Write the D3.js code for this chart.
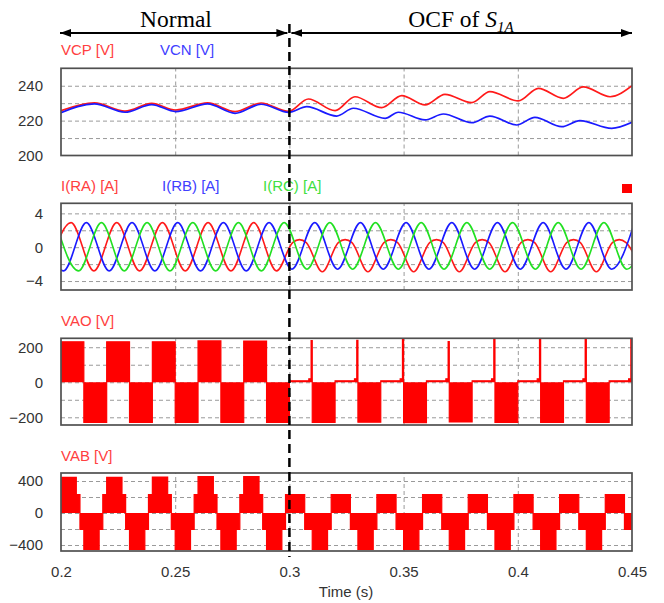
<!DOCTYPE html>
<html>
<head>
<meta charset="utf-8">
<script src="https://cdn.jsdelivr.net/npm/d3@7"></script>
<style>
  body { margin: 0; background: #fff; }
  .sans { font-family: "Liberation Sans", Arial, sans-serif; }
  .serif { font-family: "Liberation Serif", "Times New Roman", serif; }
</style>
</head>
<body>
<svg id="chart" width="664" height="603"></svg>
<script>
// ---- time axis ----
const timeDomain = [0.2, 0.45];
const timeTicks = [0.2, 0.25, 0.3, 0.35, 0.4, 0.45];
const timeTickLabels = ["0.2", "0.25", "0.3", "0.35", "0.4", "0.45"];
const timeGrid = [0.25, 0.3, 0.35, 0.4];
const faultTime = 0.3;

// ---- capacitor voltages VCP / VCN [V] : (time, value) turning points ----
const vcpPoints = [
  [0.2, 225.7], [0.2146, 230.2], [0.228, 225.5], [0.2397, 229.9], [0.2502, 226.1],
  [0.2642, 230.2], [0.2762, 225.2], [0.2876, 230.1], [0.2997, 225.3], [0.3083, 232.4],
  [0.32, 225.7], [0.3287, 233.7], [0.3404, 227.4], [0.3492, 234.3], [0.3594, 229.0],
  [0.3681, 235.1], [0.3798, 230.3], [0.3878, 236.6], [0.4002, 231.3], [0.409, 238.5],
  [0.4199, 232.8], [0.4287, 239.3], [0.4404, 233.7], [0.45, 240.0]
];
const vcnPoints = [
  [0.2, 224.5], [0.2146, 229.6], [0.228, 224.8], [0.2397, 229.2], [0.2502, 225.2],
  [0.2642, 229.6], [0.2762, 224.2], [0.2876, 229.4], [0.2997, 224.7], [0.3076, 228.0],
  [0.3207, 222.6], [0.328, 227.1], [0.3419, 221.3], [0.3477, 224.8], [0.3594, 220.4],
  [0.3674, 223.8], [0.3798, 218.8], [0.3878, 222.6], [0.3995, 217.5], [0.4075, 221.9],
  [0.4192, 216.5], [0.4272, 220.0], [0.4411, 215.6], [0.45, 219.0]
];
const vcTicks = [200, 220, 240];
const vcGrid = [210, 220, 230, 240];

// ---- load currents [A] : peaks and troughs ----
const iraPoints = [
  [0.1944, -2.8], [0.2044, 2.9], [0.2144, -2.8], [0.2244, 2.9], [0.2344, -2.8],
  [0.2444, 2.9], [0.2544, -2.8], [0.2644, 2.9], [0.2744, -2.8], [0.2844, 2.9],
  [0.2944, -2.8], [0.3014, 0.55], [0.3044, 0.9], [0.3074, 0.55], [0.3144, -2.9],
  [0.3214, 0.55], [0.3244, 0.9], [0.3274, 0.55], [0.3344, -2.9],
  [0.3414, 0.55], [0.3444, 0.9], [0.3474, 0.55], [0.3544, -2.9],
  [0.3614, 0.55], [0.3644, 0.9], [0.3674, 0.55], [0.3744, -2.9],
  [0.3814, 0.55], [0.3844, 0.9], [0.3874, 0.55], [0.3944, -2.9],
  [0.4014, 0.55], [0.4044, 0.9], [0.4074, 0.55], [0.4144, -2.9],
  [0.4214, 0.55], [0.4244, 0.9], [0.4274, 0.55], [0.4344, -2.9],
  [0.4414, 0.55], [0.4444, 0.9], [0.4474, 0.55], [0.4544, -2.9]
];
const irbPoints = [
  [0.1911, 2.9], [0.2011, -2.8], [0.2111, 2.9], [0.2211, -2.8], [0.2311, 2.9],
  [0.2411, -2.8], [0.2511, 2.9], [0.2611, -2.8], [0.2711, 2.9], [0.2811, -2.8],
  [0.2911, 2.9], [0.3011, -2.6], [0.3111, 2.9], [0.3211, -2.6], [0.3311, 2.9],
  [0.3411, -2.6], [0.3511, 2.9], [0.3611, -2.6], [0.3711, 2.9], [0.3811, -2.6],
  [0.3911, 2.9], [0.4011, -2.6], [0.4111, 2.9], [0.4211, -2.6], [0.4311, 2.9],
  [0.4411, -2.6], [0.4511, 2.9]
];
const ircPoints = [
  [0.1977, 2.9], [0.2077, -2.8], [0.2177, 2.9], [0.2277, -2.8], [0.2377, 2.9],
  [0.2477, -2.8], [0.2577, 2.9], [0.2677, -2.8], [0.2777, 2.9], [0.2877, -2.8],
  [0.2977, 2.9], [0.3077, -2.6], [0.3177, 2.9], [0.3277, -2.6], [0.3377, 2.9],
  [0.3477, -2.6], [0.3577, 2.9], [0.3677, -2.6], [0.3777, 2.9], [0.3877, -2.6],
  [0.3977, 2.9], [0.4077, -2.6], [0.4177, 2.9], [0.4277, -2.6], [0.4377, 2.9],
  [0.4477, -2.6], [0.4577, 2.9]
];
const iTicks = [-4, 0, 4];
const iGrid = [-4, -2, 0, 2, 4];

// ---- pole voltage VAO [V] : (segment start time, level) ----
const vaoSteps = [
  [0.2, 231], [0.21, -229], [0.22, 231], [0.23, -229], [0.24, 231],
  [0.25, -229], [0.26, 236], [0.27, -229], [0.28, 235], [0.29, -229],
  [0.3, 8], [0.3085, 20], [0.3095, 238], [0.31, -229],
  [0.32, 8], [0.3285, 20], [0.3295, 240], [0.33, -228],
  [0.34, 8], [0.3485, 20], [0.3495, 248], [0.35, -230],
  [0.36, 8], [0.3685, 20], [0.3695, 232], [0.37, -227],
  [0.38, 8], [0.3885, 20], [0.3895, 248], [0.39, -229],
  [0.40, 8], [0.4085, 20], [0.4095, 245], [0.41, -229],
  [0.42, 8], [0.4285, 20], [0.4295, 245], [0.43, -229],
  [0.44, 8], [0.4485, 20], [0.4495, 248]
];
const vaoTicks = [-200, 0, 200];
const vaoGrid = [-200, -100, 0, 100, 200];

// ---- line voltage VAB [V] : (segment start time, level) ----
const vabSteps = [
  [0.2, 445], [0.2067, 230], [0.2083, -205], [0.21, -455], [0.2167, -205], [0.2183, 230],
  [0.22, 445], [0.2267, 230], [0.2283, -205], [0.23, -455], [0.2367, -205], [0.2383, 230],
  [0.24, 450], [0.2467, 230], [0.2483, -205], [0.25, -455], [0.2567, -205], [0.2583, 230],
  [0.26, 455], [0.2667, 230], [0.2683, -205], [0.27, -455], [0.2767, -205], [0.2783, 230],
  [0.28, 455], [0.2867, 230], [0.2883, -205], [0.29, -455], [0.2967, -205], [0.2983, 230],
  [0.3067, -205], [0.31, -455], [0.3167, -205], [0.3183, 230],
  [0.3267, -205], [0.33, -455], [0.3367, -205], [0.3383, 230],
  [0.3467, -205], [0.35, -455], [0.3567, -205], [0.3583, 230],
  [0.3667, -205], [0.37, -455], [0.3767, -205], [0.3783, 230],
  [0.3867, -205], [0.39, -455], [0.3967, -205], [0.3983, 230],
  [0.4067, -205], [0.41, -455], [0.4167, -205], [0.4183, 230],
  [0.4267, -205], [0.43, -455], [0.4367, -205], [0.4383, 230],
  [0.4467, -205]
];
const vabTicks = [-400, 0, 400];
const vabGrid = [-400, -200, 0, 200, 400];

// ---- drawing ----
const svg = d3.select("#chart");
const plotLeft = 61, plotRight = 632;
const x = d3.scaleLinear().domain(timeDomain).range([plotLeft, plotRight]);
const tickFont = 15;

const panels = [
  { id: "vc",  top: 68.3,  bottom: 155.5, domain: [200, 250],     ticks: vcTicks,  grid: vcGrid },
  { id: "cur", top: 203.3, bottom: 290,   domain: [-5.06, 5.19],  ticks: iTicks,   grid: iGrid },
  { id: "vao", top: 338.3, bottom: 425,   domain: [-244, 251],    ticks: vaoTicks, grid: vaoGrid },
  { id: "vab", top: 473,   bottom: 551,   domain: [-475, 500],    ticks: vabTicks, grid: vabGrid }
];

const defs = svg.append("defs");

panels.forEach(p => {
  p.y = d3.scaleLinear().domain(p.domain).range([p.bottom, p.top]);
  defs.append("clipPath").attr("id", "clip-" + p.id)
    .append("rect")
    .attr("x", plotLeft).attr("y", p.top)
    .attr("width", plotRight - plotLeft).attr("height", p.bottom - p.top);

  const g = svg.append("g").attr("class", "panel-" + p.id);
  p.g = g;

  // horizontal dashed grid
  g.append("g")
    .attr("transform", `translate(${plotLeft},0)`)
    .call(d3.axisLeft(p.y).tickValues(p.grid).tickSize(-(plotRight - plotLeft)).tickFormat(""))
    .call(a => a.select(".domain").remove())
    .call(a => a.selectAll("line").attr("stroke", "#9a9a9a").attr("stroke-dasharray", "4,3"));

  // vertical dashed grid
  g.append("g")
    .attr("transform", `translate(0,${p.bottom})`)
    .call(d3.axisBottom(x).tickValues(timeGrid).tickSize(-(p.bottom - p.top)).tickFormat(""))
    .call(a => a.select(".domain").remove())
    .call(a => a.selectAll("line").attr("stroke", "#9a9a9a").attr("stroke-dasharray", "4,3"));

  // y tick labels
  g.append("g")
    .attr("transform", `translate(${plotLeft},0)`)
    .call(d3.axisLeft(p.y).tickValues(p.ticks).tickSize(0).tickPadding(18).tickFormat(d3.format("d")))
    .call(a => a.select(".domain").remove())
    .call(a => a.selectAll("text")
      .attr("font-size", tickFont).attr("fill", "#333")
      .attr("font-family", null).attr("class", "sans"));

  p.plot = g.append("g").attr("clip-path", `url(#clip-${p.id})`);
});

// panel 1: capacitor voltages
{
  const p = panels[0];
  const line = d3.line().curve(d3.curveMonotoneX).x(d => x(d[0])).y(d => p.y(d[1]));
  p.plot.append("path").datum(vcpPoints).attr("d", line)
    .attr("fill", "none").attr("stroke", "#ff1a1a").attr("stroke-width", 1.7);
  p.plot.append("path").datum(vcnPoints).attr("d", line)
    .attr("fill", "none").attr("stroke", "#1a1aff").attr("stroke-width", 1.7);
}

// panel 2: three phase currents
{
  const p = panels[1];
  const line = d3.line().curve(d3.curveMonotoneX).x(d => x(d[0])).y(d => p.y(d[1]));
  [[iraPoints, "#ff1a1a"], [irbPoints, "#1a1aff"], [ircPoints, "#22e022"]].forEach(([pts, c]) => {
    p.plot.append("path").datum(pts).attr("d", line)
      .attr("fill", "none").attr("stroke", c).attr("stroke-width", 1.6);
  });
}

// step waveforms (PWM envelopes) for VAO and VAB
function drawSteps(p, steps) {
  const pts = steps.concat([[timeDomain[1], steps[steps.length - 1][1]]]);
  const area = d3.area().curve(d3.curveStepAfter)
    .x(d => x(d[0])).y0(p.y(0)).y1(d => p.y(d[1]));
  const line = d3.line().curve(d3.curveStepAfter)
    .x(d => x(d[0])).y(d => p.y(d[1]));
  p.plot.append("path").datum(pts).attr("d", area).attr("fill", "#ff0000");
  p.plot.append("path").datum(pts).attr("d", line)
    .attr("fill", "none").attr("stroke", "#ff0000").attr("stroke-width", 1.2);
}
drawSteps(panels[2], vaoSteps);
drawSteps(panels[3], vabSteps);

// panel frames
panels.forEach(p => {
  p.g.append("rect")
    .attr("x", plotLeft).attr("y", p.top)
    .attr("width", plotRight - plotLeft).attr("height", p.bottom - p.top)
    .attr("fill", "none").attr("stroke", "#505050").attr("stroke-width", 1.7);
});

// series labels
const labelFont = 15;
function label(xp, yp, txt, color) {
  svg.append("text").attr("class", "sans").attr("x", xp).attr("y", yp).text(txt)
    .attr("font-size", labelFont).attr("fill", color);
}
label(61, 55, "VCP [V]", "#ff4040");
label(160, 55, "VCN [V]", "#4040ff");
label(61, 191, "I(RA) [A]", "#ff4040");
label(162, 191, "I(RB) [A]", "#4040ff");
label(263, 191, "I(RC) [A]", "#40e040");
label(61, 326, "VAO [V]", "#ff4040");
label(61, 461, "VAB [V]", "#ff4040");
svg.append("rect").attr("x", 622).attr("y", 184).attr("width", 10).attr("height", 9).attr("fill", "#ff0000");

// time axis
svg.append("g")
  .attr("transform", `translate(0,${panels[3].bottom})`)
  .call(d3.axisBottom(x).tickValues(timeTicks).tickSize(0).tickPadding(15)
    .tickFormat((d, i) => timeTickLabels[i]))
  .call(a => a.select(".domain").remove())
  .call(a => a.selectAll("text").attr("font-size", tickFont).attr("fill", "#333")
    .attr("font-family", null).attr("class", "sans"));
svg.append("text").attr("class", "sans").attr("x", 346).attr("y", 597).attr("text-anchor", "middle")
  .attr("font-size", tickFont).attr("fill", "#333").text("Time (s)");

// operating-mode annotation
const xf = x(faultTime);
const arrowY = 33;
defs.append("marker").attr("id", "head").attr("viewBox", "0 0 11 8")
  .attr("refX", 11).attr("refY", 4).attr("markerWidth", 11).attr("markerHeight", 8)
  .attr("markerUnits", "userSpaceOnUse").attr("orient", "auto-start-reverse")
  .append("path").attr("d", "M0,0 L11,4 L0,8 Z").attr("fill", "#000");
svg.append("line").attr("x1", x(timeDomain[0]) - 1).attr("x2", xf - 2)
  .attr("y1", arrowY).attr("y2", arrowY).attr("stroke", "#000").attr("stroke-width", 2)
  .attr("marker-start", "url(#head)").attr("marker-end", "url(#head)");
svg.append("line").attr("x1", xf + 2).attr("x2", x(timeDomain[1]))
  .attr("y1", arrowY).attr("y2", arrowY).attr("stroke", "#000").attr("stroke-width", 2)
  .attr("marker-start", "url(#head)").attr("marker-end", "url(#head)");

svg.append("line").attr("x1", xf).attr("x2", xf).attr("y1", 24).attr("y2", 557)
  .attr("stroke", "#000").attr("stroke-width", 2.5).attr("stroke-dasharray", "9,5");

const headFont = 23.5;
svg.append("text").attr("class", "serif").attr("x", 176).attr("y", 27)
  .attr("text-anchor", "middle").attr("font-size", headFont)
  .attr("fill", "#000").text("Normal");
const ocf = svg.append("text").attr("class", "serif").attr("x", 461).attr("y", 27)
  .attr("text-anchor", "middle").attr("font-size", headFont)
  .attr("fill", "#000");
ocf.append("tspan").text("OCF of ");
ocf.append("tspan").attr("font-style", "italic").text("S");
ocf.append("tspan").attr("font-style", "italic").attr("font-size", 15).attr("dy", 5).text("1A");
</script>
</body>
</html>
